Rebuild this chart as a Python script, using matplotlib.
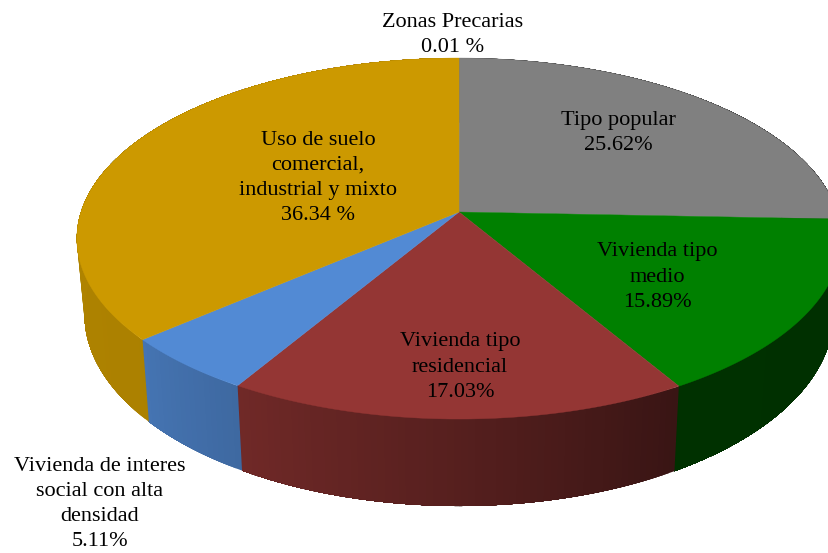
import numpy as np
import matplotlib
matplotlib.use("Agg")
import matplotlib.pyplot as plt
from matplotlib.collections import PolyCollection
from matplotlib.patches import Polygon

# slices, clockwise from 12 o'clock
values = [0.01, 25.62, 15.89, 17.03, 5.11, 36.34]
labels = [
    "Zonas Precarias\n0.01 %",
    "Tipo popular\n25.62%",
    "Vivienda tipo\nmedio\n15.89%",
    "Vivienda tipo\nresidencial\n17.03%",
    "Vivienda de interes\nsocial con alta\ndensidad\n5.11%",
    "Uso de suelo\ncomercial,\nindustrial y mixto\n36.34 %",
]
colors = ["#4f6228", "#808080", "#008000", "#943634", "#528ad4", "#cc9900"]
label_pos = [(453, 35), (618, 133), (657, 277), (460, 367), (100, 504), (318, 178)]

# perspective of the tilted disc, in pixels of the picture
cx, cy = 459, 212
rx, ry = 378, 176.6
persp = 0.147
depth = 74.2
shrink = 0.98

# wall darkness by angle (deg clockwise from top)
shade_ang = [0, 149, 180, 211, 229, 270, 360]
shade_val = [0.37, 0.38, 0.58, 0.76, 0.84, 0.86, 0.86]


def rim(theta, bottom=False):
    u, v = np.sin(theta), np.cos(theta)
    w = 1 + persp * v
    x = cx + rx * u / w
    y = cy - ry * v / w
    if bottom:
        x = cx + (x - cx) * shrink
        y = y + depth / w
    return x, y


fig = plt.figure(figsize=(8.29, 5.53), dpi=100)
ax = fig.add_axes([0, 0, 1, 1])
ax.set_xlim(0, 829)
ax.set_ylim(553, 0)
ax.axis("off")

edges = np.radians(np.cumsum([0] + values) * 3.6)

# side walls: each strip runs on to the end of its slice and the next one
# paints over it, so no background shows through between strips
for i, col in enumerate(colors):
    t = np.linspace(edges[i], edges[i + 1], max(2, int(values[i] * 4)))
    base = np.array(matplotlib.colors.to_rgb(col))
    x0, y0 = rim(t)
    x1, y1 = rim(t, bottom=True)
    quads, cols = [], []
    for j in range(len(t) - 1):
        quads.append(list(zip(x0[j:], y0[j:])) + list(zip(x1[j:][::-1], y1[j:][::-1])))
        cols.append(base * np.interp(np.degrees((t[j] + t[j + 1]) / 2), shade_ang, shade_val))
    ax.add_collection(PolyCollection(quads, facecolors=cols, edgecolors="none", linewidths=0))

# top face
for i, col in enumerate(colors):
    t = np.linspace(edges[i], edges[i + 1], 200)
    x, y = rim(t)
    pts = np.column_stack([np.r_[cx, x], np.r_[cy, y]])
    ax.add_patch(Polygon(pts, closed=True, facecolor=col, edgecolor=col, linewidth=0.3, zorder=3))

for txt, (tx, ty) in zip(labels, label_pos):
    ax.text(tx, ty, txt, ha="center", va="center", ma="center", fontsize=16,
            family="Liberation Serif", color="black", linespacing=1.45, zorder=4)

fig.savefig("out.png", dpi=100)
